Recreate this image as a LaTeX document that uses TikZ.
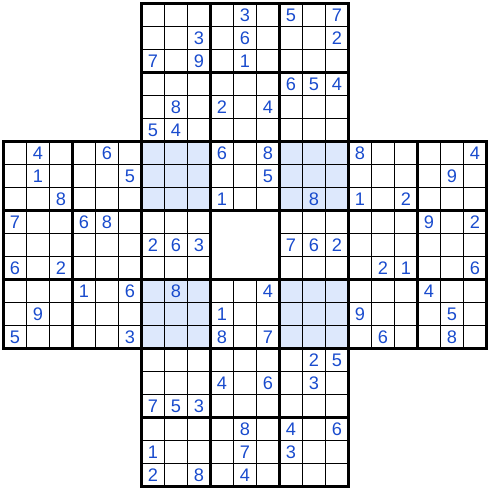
\documentclass[tikz,border=0pt]{standalone}
\usepackage{fontspec}
\setmainfont{Liberation Sans}
\usetikzlibrary{backgrounds}
\pgfdeclarelayer{edgelayer}
\pgfdeclarelayer{nodelayer}
\pgfsetlayers{edgelayer,main,nodelayer}
\definecolor{given}{RGB}{25,75,205}
\definecolor{overlapfill}{RGB}{221,232,252}
\tikzstyle{digit}=[inner sep=0pt,text=given,font=\fontsize{13.5}{14}\selectfont]
\tikzstyle{cell}=[line width=1.4pt]
\tikzstyle{box}=[line width=2.6pt]
\tikzstyle{overlap}=[fill=overlapfill]

\begin{document}
\begin{tikzpicture}[x=0.6cm,y=-0.6cm]
	\useasboundingbox (-0.152,-0.152) rectangle (21.152,21.152);
	\begin{pgfonlayer}{edgelayer}
		\foreach \ox/\oy in {6/6, 12/6, 6/12, 12/12}
			\fill[style=overlap] (\ox,\oy) rectangle ++(3,3);
		\foreach \i in {0,...,21} {
			\draw[style=cell] (\i,6) to (\i,15);
			\draw[style=cell] (6,\i) to (15,\i);
		}
		\foreach \i in {6,...,15} {
			\draw[style=cell] (\i,0) to (\i,21);
			\draw[style=cell] (0,\i) to (21,\i);
		}
		\fill[white] (9,9) rectangle (12,12);
	\end{pgfonlayer}
	\foreach \ox/\oy in {6/0, 0/6, 12/6, 6/12} {
		\draw[style=box] (\ox,\oy) rectangle ++(9,9);
		\foreach \k in {3,6} {
			\draw[style=box] (\ox+\k,\oy) to ++(0,9);
			\draw[style=box] (\ox,\oy+\k) to ++(9,0);
		}
	}
	\begin{pgfonlayer}{nodelayer}
		\foreach \row/\col/\val in {0/10/3, 0/12/5, 0/14/7, 1/8/3, 1/10/6, 1/14/2,
			2/6/7, 2/8/9, 2/10/1, 3/12/6, 3/13/5, 3/14/4, 4/7/8, 4/9/2, 4/11/4,
			5/6/5, 5/7/4, 6/1/4, 6/4/6, 6/9/6, 6/11/8, 6/15/8, 6/20/4,
			7/1/1, 7/5/5, 7/11/5, 7/19/9, 8/2/8, 8/9/1, 8/13/8, 8/15/1, 8/17/2,
			9/0/7, 9/3/6, 9/4/8, 9/18/9, 9/20/2,
			10/6/2, 10/7/6, 10/8/3, 10/12/7, 10/13/6, 10/14/2,
			11/0/6, 11/2/2, 11/16/2, 11/17/1, 11/20/6,
			12/3/1, 12/5/6, 12/7/8, 12/11/4, 12/18/4, 13/1/9, 13/9/1, 13/15/9, 13/19/5,
			14/0/5, 14/5/3, 14/9/8, 14/11/7, 14/16/6, 14/19/8,
			15/13/2, 15/14/5, 16/9/4, 16/11/6, 16/13/3, 17/6/7, 17/7/5, 17/8/3,
			18/10/8, 18/12/4, 18/14/6, 19/6/1, 19/10/7, 19/12/3, 20/6/2, 20/8/8, 20/10/4}
			\node [style=digit] (c-\row-\col) at (\col+0.5,\row+0.5) {\val};
	\end{pgfonlayer}
\end{tikzpicture}
\end{document}
